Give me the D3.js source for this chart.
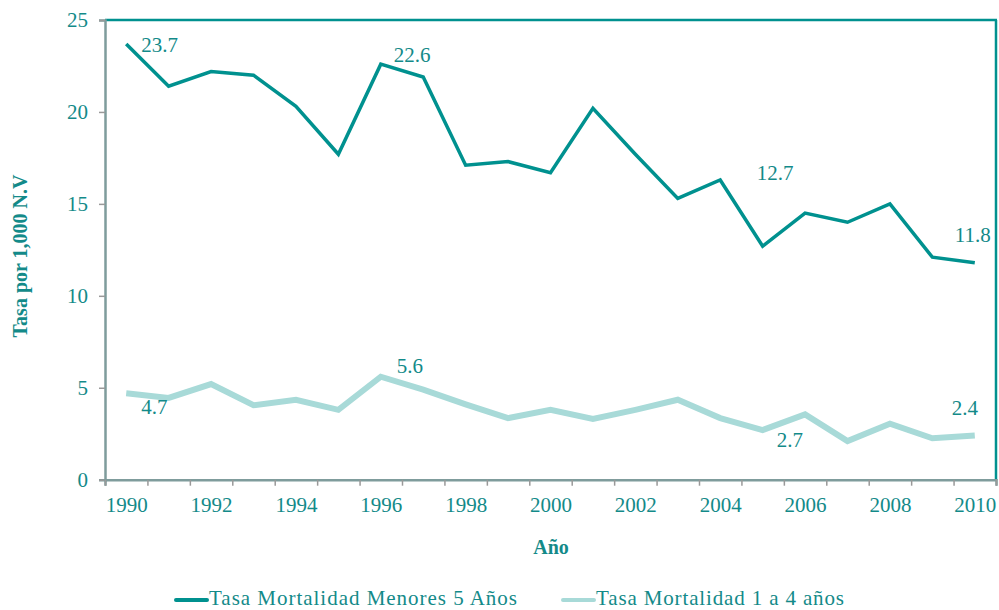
<!DOCTYPE html>
<html>
<head>
<meta charset="utf-8">
<script src="https://cdn.jsdelivr.net/npm/d3@7"></script>
<style>
  body { margin: 0; background: #fff; }
  text { font-family: "Liberation Serif", "DejaVu Serif", serif; fill: #138a89; }
</style>
</head>
<body>
<script>
// data
var years = d3.range(1990, 2011);
var menores5 = [23.7, 21.4, 22.2, 22.0, 20.3, 17.7, 22.6, 21.9, 17.1, 17.3, 16.7,
                20.2, 17.7, 15.3, 16.3, 12.7, 14.5, 14.0, 15.0, 12.1, 11.8];
var unoACuatro = [4.7, 4.45, 5.2, 4.05, 4.35, 3.8, 5.6, 4.9, 4.1, 3.35, 3.8,
                  3.3, 3.8, 4.35, 3.35, 2.7, 3.55, 2.1, 3.05, 2.25, 2.4];
var yTicks = [0, 5, 10, 15, 20, 25];
var xLabelYears = d3.range(1990, 2011, 2);
var seriesNames = ["Tasa Mortalidad Menores 5 Años", "Tasa Mortalidad 1 a 4 años"];

// labelled points: [series index, year index, dx, dy]
var labels = [[0, 0, 15, 8], [0, 6, 13, -2], [0, 15, -6, -66], [0, 20, -20, -21],
              [1, 0, 15, 21], [1, 6, 16, -4], [1, 15, 14, 17], [1, 20, -23, -21]];

var w = 999, h = 610;
var teal = "#00918f", light = "#a8dad8", axisCol = "#7f9c9c";

var svg = d3.select("body").append("svg").attr("width", w).attr("height", h);

var x = d3.scaleLinear().domain([1989.5, 2010.5]).range([105, 996]);
var y = d3.scaleLinear().domain([0, 25]).range([479.7, 20]);

//FRAME: top and right border
svg.append("line").attr("x1", x(1989.5)).attr("x2", x(2010.5) + 1).attr("y1", y(25)).attr("y2", y(25))
  .attr("stroke", teal).attr("stroke-width", 2.5);
svg.append("line").attr("x1", x(2010.5)).attr("x2", x(2010.5)).attr("y1", y(25)).attr("y2", y(0))
  .attr("stroke", teal).attr("stroke-width", 2.5);

//Y AXIS
var yAxis = svg.append("g").attr("transform", "translate(" + x(1989.5) + ",0)")
  .call(d3.axisLeft(y).tickValues(yTicks).tickSize(6).tickPadding(11));
yAxis.select(".domain").attr("stroke", axisCol).attr("stroke-width", 2.5);
yAxis.selectAll(".tick line").attr("stroke", "#999").attr("stroke-width", 1.5);
yAxis.selectAll(".tick text").attr("font-size", 21).attr("fill", "#138a89");

//X AXIS: ticks at category borders, labels every two years
var xTickAxis = svg.append("g").attr("transform", "translate(0," + y(0) + ")")
  .call(d3.axisBottom(x).tickValues(d3.range(1989.5, 2011, 1)).tickSize(6).tickFormat(""));
xTickAxis.select(".domain").attr("stroke", axisCol).attr("stroke-width", 2.5);
xTickAxis.selectAll(".tick line").attr("stroke", "#999").attr("stroke-width", 1.5);

var xLabAxis = svg.append("g").attr("transform", "translate(0," + y(0) + ")")
  .call(d3.axisBottom(x).tickValues(xLabelYears).tickSize(0).tickPadding(17).tickFormat(d3.format("d")));
xLabAxis.select(".domain").remove();
xLabAxis.selectAll(".tick text").attr("font-size", 21).attr("fill", "#138a89");
svg.selectAll("g").attr("font-family", null);

//AXIS TITLES
svg.append("text").attr("x", 551).attr("y", 554).attr("text-anchor", "middle")
  .attr("font-size", 20).attr("font-weight", "bold").text("Año");
svg.append("text").attr("transform", "translate(27,256) rotate(-90)").attr("text-anchor", "middle")
  .attr("font-size", 20).attr("font-weight", "bold").text("Tasa por 1,000 N.V");

//LINES
var series = [menores5, unoACuatro];
var colors = [teal, light];
var widths = [3.5, 6];
var line = d3.line().x(function (d, i) { return x(years[i]); }).y(function (d) { return y(d); });

[1, 0].forEach(function (s) {
  svg.append("path").datum(series[s]).attr("d", line)
    .attr("fill", "none").attr("stroke", colors[s]).attr("stroke-width", widths[s])
    .attr("stroke-linejoin", "miter");
});

//DATA LABELS
svg.selectAll("text.lbl").data(labels).enter().append("text").attr("class", "lbl")
  .attr("x", function (d) { return x(years[d[1]]) + d[2]; })
  .attr("y", function (d) { return y(series[d[0]][d[1]]) + d[3]; })
  .attr("font-size", 21)
  .text(function (d) { return d3.format(".1f")(series[d[0]][d[1]]); });

//LEGEND
var legX = [176, 563];
var legLen = [308, 248];
seriesNames.forEach(function (name, i) {
  svg.append("line").attr("x1", legX[i]).attr("x2", legX[i] + 31).attr("y1", 600).attr("y2", 600)
    .attr("stroke", colors[i]).attr("stroke-width", 4).attr("stroke-linecap", "round");
  svg.append("text").attr("x", legX[i] + 33).attr("y", 605).attr("font-size", 21)
    .attr("textLength", legLen[i]).attr("lengthAdjust", "spacing").text(name);
});
</script>
</body>
</html>
